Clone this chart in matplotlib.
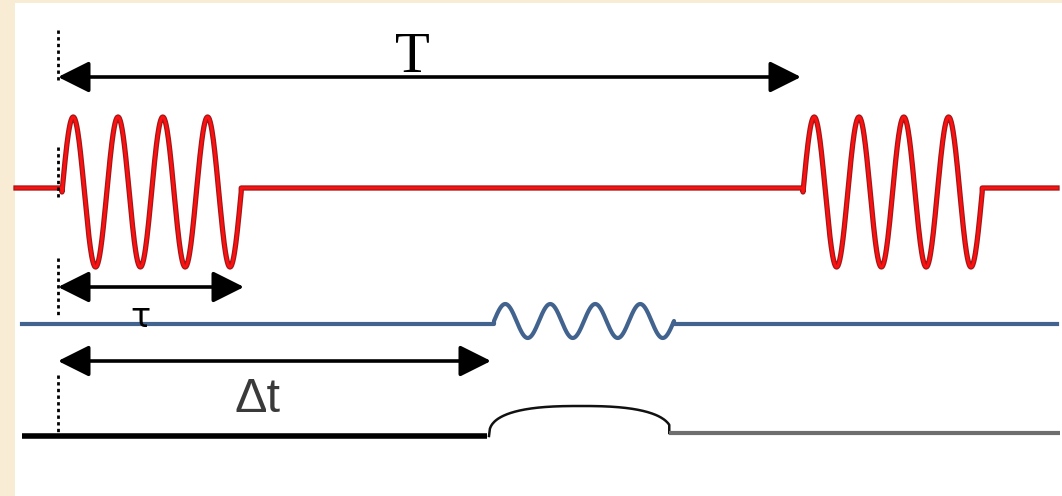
import numpy as np
import matplotlib
matplotlib.use("Agg")
from matplotlib import pyplot as plt
from matplotlib.patches import Rectangle

# pump pulses (red), pixel-like units, y grows downward
pump_starts = [62, 803]
pump_cycles = 4
pump_period = 44.8
pump_level = 188
pump_center = 192
pump_amp = 75
pump_span = [16, 1057]

# probe (blue)
probe_start = 494
probe_cycles = 4
probe_period = 45.0
probe_level = 324
probe_center = 321
probe_amp = 17
probe_span = [22, 1057]

# detected signal (black / grey)
sig_level = 436
sig_start = 489
sig_end = 672
sig_height = 30
sig_tail_level = 433
sig_span = [22, 1060]

# arrows and labels
arrow_labels = ["T", "\u03c4", "\u0394t"]
arrow_x0 = [58, 58, 58]
arrow_x1 = [801, 244, 491]
arrow_y = [77, 287, 361]
label_x = [412, 140, 258]
label_y = [72, 327, 412]

# dotted markers at t = 0
dot_x = 58
dot_segments = [(30, 83), (147, 197), (258, 315), (375, 437)]


def burst(x0, cycles, period, center, amp):
    x = np.linspace(x0, x0 + cycles * period, 400)
    y = center - amp * np.sin(2 * np.pi * (x - x0) / period)
    return x, y


fig = plt.figure(figsize=(10.62, 4.96), dpi=100)
fig.patch.set_facecolor("#f9ecd5")
ax = fig.add_axes([0, 0, 1, 1])
ax.set_xlim(0, 1062)
ax.set_ylim(496, 0)
ax.axis("off")
ax.add_patch(Rectangle((15, 3), 1062, 500, facecolor="white", edgecolor="none"))

# red pump line
xs, ys = [pump_span[0]], [pump_level]
for s in pump_starts:
    bx, by = burst(s, pump_cycles, pump_period, pump_center, pump_amp)
    xs += [s] + list(bx) + [bx[-1]]
    ys += [pump_level] + list(by) + [pump_level]
xs.append(pump_span[1])
ys.append(pump_level)
ax.plot(xs, ys, color="#a01818", lw=3.8, solid_joinstyle="round")
ax.plot(xs, ys, color="#ff1010", lw=2.0, solid_joinstyle="round")

# blue probe line
bx, by = burst(probe_start, probe_cycles, probe_period, probe_center, probe_amp)
px = [probe_span[0], probe_start] + list(bx) + [bx[-1], probe_span[1]]
py = [probe_level, probe_level] + list(by) + [probe_level, probe_level]
ax.plot(px, py, color="#42638e", lw=3.0)

# signal
ax.plot([sig_span[0], sig_start - 2], [sig_level, sig_level], color="black", lw=4.0, solid_capstyle="butt")
u = np.linspace(-1, 0.97, 200)
bump = sig_level - sig_height * (1 - np.abs(u) ** 2.6) ** (1 / 2.6)
bxs = sig_start + (u + 1) / 2 * (sig_end - sig_start)
ax.plot(list(bxs) + [bxs[-1]], list(bump) + [sig_tail_level], color="#111111", lw=1.8)
ax.plot([bxs[-1], sig_span[1]], [sig_tail_level, sig_tail_level], color="#6e6e6e", lw=3.0,
        solid_capstyle="butt")

# dotted markers
for y0, y1 in dot_segments:
    ax.plot([dot_x, dot_x], [y0, y1], color="black", lw=2.0, dashes=(1.2, 1.2))

# arrows
for x0, x1, y in zip(arrow_x0, arrow_x1, arrow_y):
    ax.annotate("", xy=(x1, y), xytext=(x0, y),
                arrowprops=dict(arrowstyle="<|-|>", mutation_scale=48, lw=2.6,
                                color="black", shrinkA=0, shrinkB=0))

ax.text(label_x[0], label_y[0], arrow_labels[0], family="Liberation Serif", fontsize=41,
        ha="center", va="baseline", color="black")
ax.text(label_x[1], label_y[1], arrow_labels[1], family="DejaVu Sans", fontsize=24,
        ha="center", va="baseline", color="black")
ax.text(label_x[2], label_y[2], arrow_labels[2], family="Liberation Sans", fontsize=35,
        ha="center", va="baseline", color="#3a3a3a")

fig.savefig("out.png", dpi=100, facecolor=fig.get_facecolor())
